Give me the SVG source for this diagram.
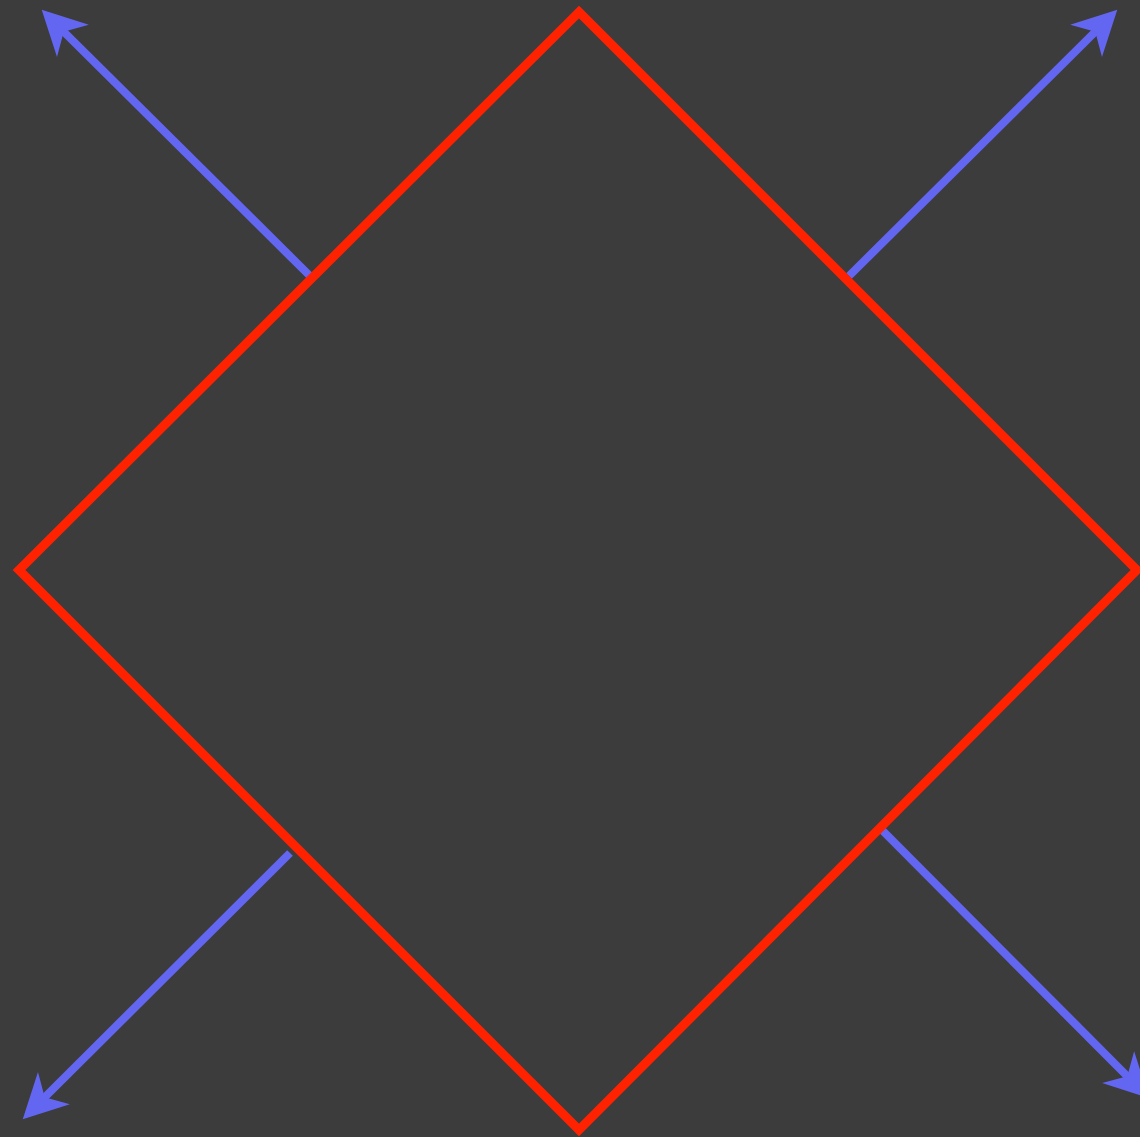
<svg xmlns="http://www.w3.org/2000/svg" width="1140" height="1137" viewBox="0 0 1140 1137">
  <defs>
    <style>
      .conn { stroke: #6366f1; stroke-width: 8; fill: none; }
      .shape { stroke: #ff2200; stroke-width: 9; fill: none; stroke-linejoin: miter; }
    </style>
    <marker id="arrow" markerUnits="userSpaceOnUse" viewBox="-20 -25 55 50" markerWidth="55" markerHeight="50" refX="0" refY="0" orient="auto" overflow="visible">
      <path d="M30,0 L-14,-22.6 L-1,0 L-14,22.6 Z" fill="#6366f1"/>
    </marker>
  </defs>
  <rect width="1140" height="1137" fill="#3c3c3c"/>
  <g id="connectors">
    <line class="conn" x1="310" y1="276" x2="63" y2="31" marker-end="url(#arrow)"/>
    <line class="conn" x1="849" y1="276" x2="1096" y2="31" marker-end="url(#arrow)"/>
    <line class="conn" x1="290" y1="853" x2="44" y2="1098" marker-end="url(#arrow)"/>
    <line class="conn" x1="882" y1="830" x2="1128" y2="1077" marker-end="url(#arrow)"/>
  </g>
  <g id="diamond">
    <polygon class="shape" points="579,12 1137,570 579,1130 19,570"/>
  </g>
</svg>
